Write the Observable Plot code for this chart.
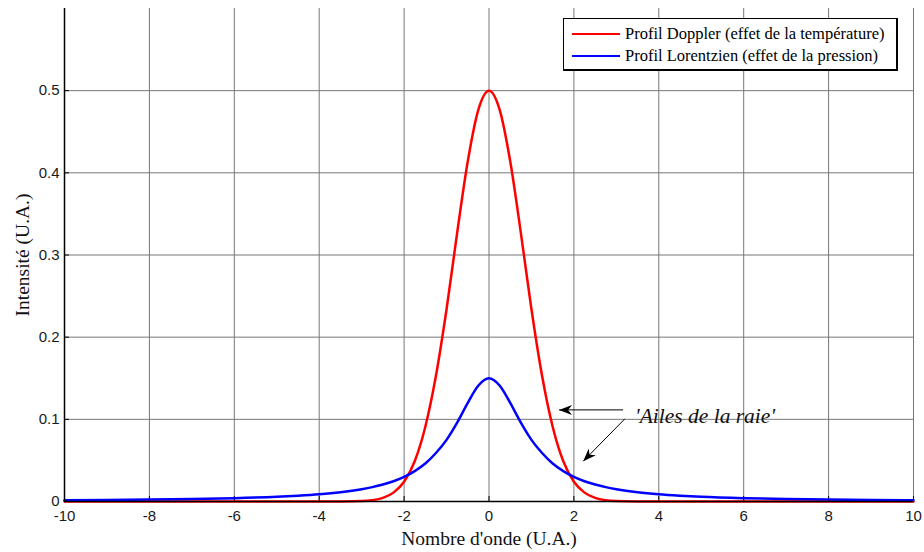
<!DOCTYPE html>
<html>
<head>
<meta charset="utf-8">
<script src="https://cdn.jsdelivr.net/npm/d3@7"></script>
<script src="https://cdn.jsdelivr.net/npm/@observablehq/plot@0.6"></script>
<style>
  html, body { margin: 0; padding: 0; background: white; }
  #wrap { position: relative; width: 924px; height: 552px; }
  #legend {
    position: absolute; left: 563px; top: 18px; width: 332px; height: 50px;
    border: 1px solid #000; border-right-width: 2px; border-bottom-width: 2px;
    background: white; font-family: "Liberation Serif", serif; font-size: 16.5px; color: #000;
  }
  .row { position: absolute; left: 8px; height: 20px; display: flex; align-items: center; white-space: nowrap; }
  .swatch { width: 48px; height: 0; border-top: 2.5px solid; margin-right: 5px; }
</style>
</head>
<body>
<div id="wrap">
  <div id="chart"></div>
  <div id="legend"></div>
</div>
<script>
// ---- data ----
const xs = [-10, -9, -8, -7, -6, -5, -4.5, -4, -3.5, -3, -2.75, -2.5, -2.25, -2, -1.75, -1.5, -1.25, -1, -0.75, -0.5, -0.25,
            0,
            0.25, 0.5, 0.75, 1, 1.25, 1.5, 1.75, 2, 2.25, 2.5, 2.75, 3, 3.5, 4, 4.5, 5, 6, 7, 8, 9, 10];
const doppler = [0, 0, 0, 0, 0, 0, 0, 0, 0.0001, 0.0005, 0.0016, 0.0044, 0.0108, 0.024, 0.049, 0.091, 0.153, 0.234, 0.327, 0.414, 0.477,
                 0.5,
                 0.477, 0.414, 0.327, 0.234, 0.153, 0.091, 0.049, 0.024, 0.0108, 0.0044, 0.0016, 0.0005, 0.0001, 0, 0, 0, 0, 0, 0, 0, 0];
const lorentz = [0.0015, 0.0018, 0.0023, 0.003, 0.0041, 0.0058, 0.0071, 0.0088, 0.0113, 0.015, 0.0175, 0.0207, 0.0247, 0.03, 0.037, 0.0462, 0.059, 0.075, 0.096, 0.12, 0.1412,
                 0.15,
                 0.1412, 0.12, 0.096, 0.075, 0.059, 0.0462, 0.037, 0.03, 0.0247, 0.0207, 0.0175, 0.015, 0.0113, 0.0088, 0.0071, 0.0058, 0.0041, 0.003, 0.0023, 0.0018, 0.0015];

const seriesNames = ["Profil Doppler (effet de la température)", "Profil Lorentzien (effet de la pression)"];
const seriesColors = ["#ff0000", "#0000ff"];

const xTicks = [-10, -8, -6, -4, -2, 0, 2, 4, 6, 8, 10];
const yTicks = [0, 0.1, 0.2, 0.3, 0.4, 0.5];
const xDomain = [-10, 10];
const yDomain = [0, 0.6];

const xLabel = ["Nombre d'onde (U.A.)"];
const yLabel = ["Intensité (U.A.)"];

const annotText = ["'Ailes de la raie'"];
const annotX = [3.44];
const annotY = [0.1034];
const arrowX1 = [3.16, 3.20];
const arrowY1 = [0.1115, 0.1006];
const arrowX2 = [1.65, 2.22];
const arrowY2 = [0.1115, 0.049];
const arrowHeadRotate = [-90, -136];

// ---- build ----
const rows = [];
xs.forEach((x, i) => rows.push({x, y: doppler[i], s: seriesNames[0]}));
xs.forEach((x, i) => rows.push({x, y: lorentz[i], s: seriesNames[1]}));
const arrows = arrowX1.map((d, i) => ({x1: d, y1: arrowY1[i], x2: arrowX2[i], y2: arrowY2[i], r: arrowHeadRotate[i]}));
const annots = annotText.map((t, i) => ({t, x: annotX[i], y: annotY[i]}));

// stealth arrow head, tip at origin, pointing up
const stealth = {
  draw(ctx) {
    ctx.moveTo(0, 0);
    ctx.lineTo(5, 13);
    ctx.lineTo(0, 9);
    ctx.lineTo(-5, 13);
    ctx.closePath();
  }
};

const serif = "Liberation Serif";
const fmt = d => String(d);

const chart = Plot.plot({
  width: 924,
  height: 552,
  marginLeft: 64,
  marginRight: 11,
  marginTop: 8,
  marginBottom: 51,
  style: {fontFamily: "'Liberation Sans', Arial, sans-serif", fontSize: "15px", color: "#1a1a1a", background: "white", overflow: "visible"},
  x: {domain: xDomain},
  y: {domain: yDomain},
  color: {domain: seriesNames, range: seriesColors},
  marks: [
    Plot.gridX(xTicks, {stroke: "#777", strokeOpacity: 1, strokeWidth: 1}),
    Plot.gridY(yTicks, {stroke: "#777", strokeOpacity: 1, strokeWidth: 1}),
    Plot.axisX(xTicks, {tickSize: 0, tickPadding: 9, tickFormat: fmt, label: null, fill: "#1a1a1a"}),
    Plot.axisY(yTicks, {tickSize: 0, tickPadding: 5, tickFormat: fmt, label: null, fill: "#1a1a1a"}),
    Plot.tickX(xTicks, {x: d => d, stroke: "#000", insetTop: 488}),
    Plot.tickY(yTicks, {y: d => d, stroke: "#000", insetRight: 844}),
    Plot.line(rows, {x: "x", y: "y", z: "s", stroke: "s", strokeWidth: 2.5, curve: "monotone-x"}),
    Plot.ruleX([xDomain[0]], {stroke: "#000", strokeWidth: 1.5}),
    Plot.ruleY([yDomain[0]], {stroke: "#000", strokeWidth: 1.5}),
    Plot.link(arrows, {x1: "x1", y1: "y1", x2: "x2", y2: "y2", stroke: "#000", strokeWidth: 1}),
    Plot.dot(arrows, {x: "x2", y: "y2", rotate: "r", symbol: stealth, fill: "#000", stroke: "none"}),
    Plot.text(annots, {x: "x", y: "y", text: "t", textAnchor: "start", lineAnchor: "middle", fontFamily: serif, fontStyle: "italic", fontSize: 21.5, fill: "#111"}),
    Plot.text(xLabel, {frameAnchor: "bottom", textAnchor: "middle", lineAnchor: "middle", dy: 37, text: d => d, fontFamily: serif, fontSize: 19.5, fill: "#111"}),
    Plot.text(yLabel, {frameAnchor: "left", textAnchor: "middle", lineAnchor: "middle", dx: -42, rotate: -90, text: d => d, fontFamily: serif, fontSize: 19.5, fill: "#111"})
  ]
});
document.getElementById("chart").appendChild(chart);

const legend = document.getElementById("legend");
seriesNames.forEach((name, i) => {
  const row = document.createElement("div");
  row.className = "row";
  row.style.top = (5 + i * 22) + "px";
  const sw = document.createElement("div");
  sw.className = "swatch";
  sw.style.borderTopColor = seriesColors[i];
  const label = document.createElement("span");
  label.textContent = name;
  row.appendChild(sw);
  row.appendChild(label);
  legend.appendChild(row);
});
</script>
</body>
</html>
